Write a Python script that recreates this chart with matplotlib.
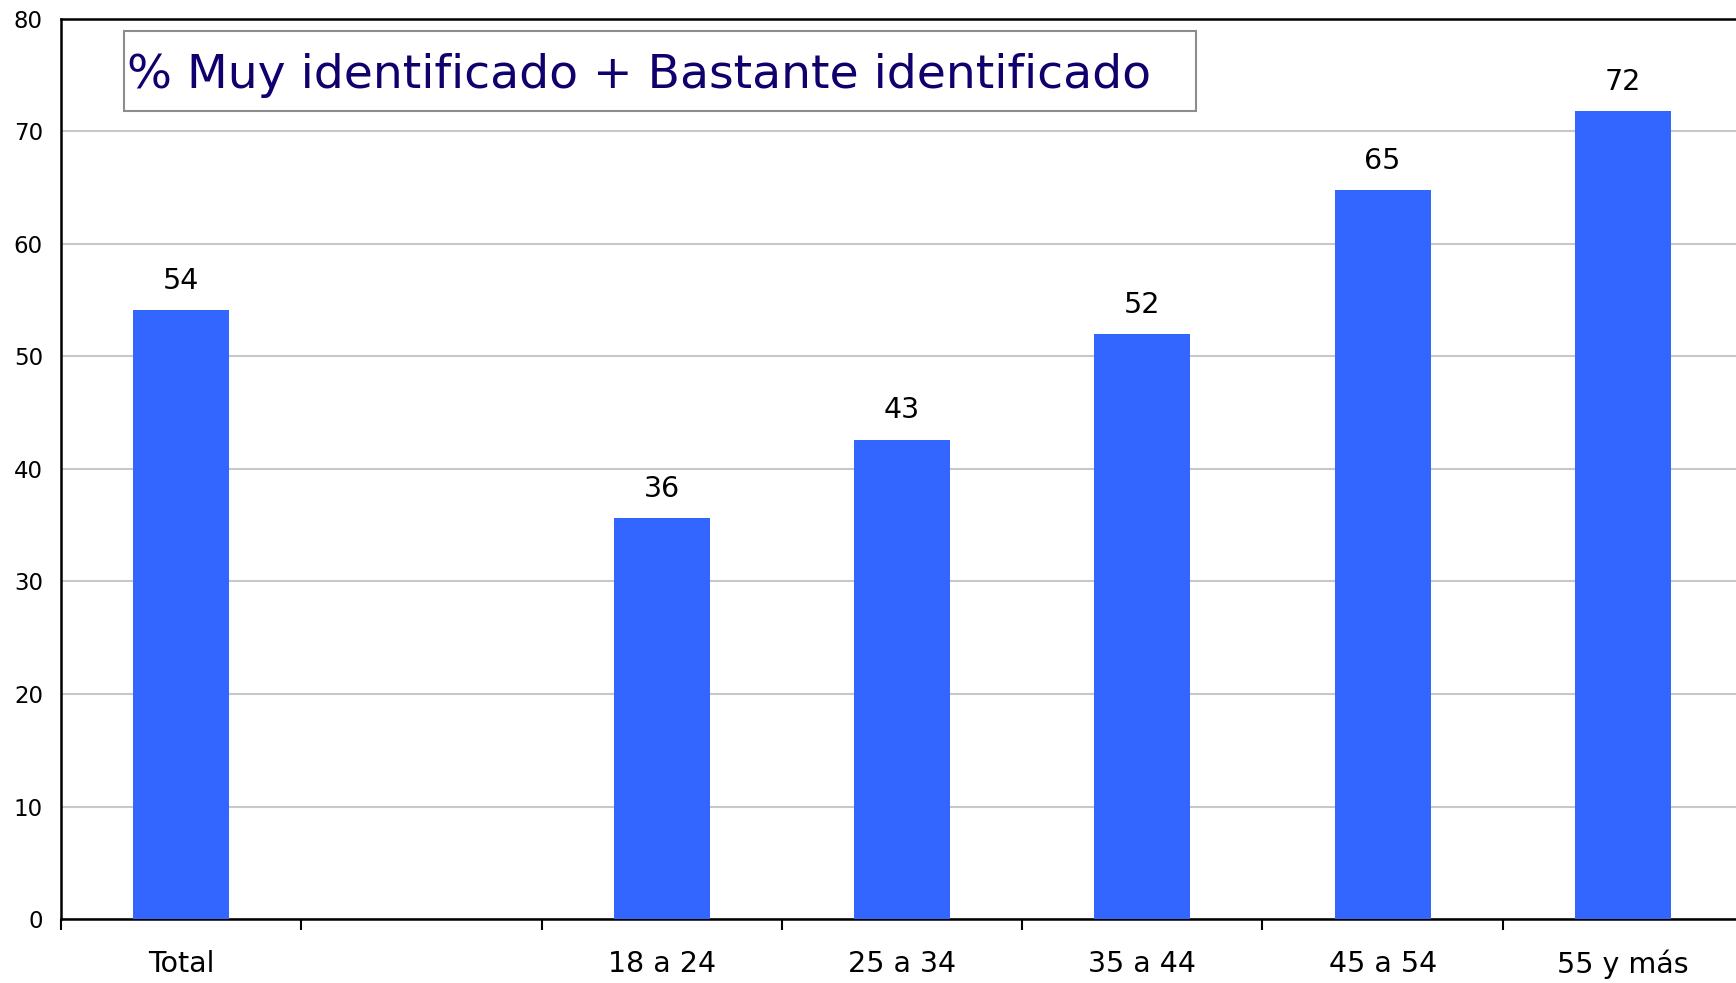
import matplotlib
matplotlib.use("Agg")
import matplotlib.pyplot as plt
from matplotlib.patches import Rectangle

categories = ["Total", "", "18 a 24", "25 a 34", "35 a 44", "45 a 54", "55 y más"]
values = [54.1, None, 35.6, 42.6, 52.0, 64.8, 71.8]
labels = ["54", "", "36", "43", "52", "65", "72"]
title = "% Muy identificado + Bastante identificado"

plt.rcParams['font.family'] = ['DejaVu Sans']

fig = plt.figure(figsize=(17.36, 9.83), dpi=100)
ax = fig.add_axes([0.0351, 0.0651, 0.969, 0.9156])

xs = [i for i, v in enumerate(values) if v is not None]
hs = [v for v in values if v is not None]
bars = ax.bar(xs, hs, width=0.4, color='#3366FF', zorder=3)

for x, h in zip(xs, hs):
    ax.annotate(labels[x], (x, h), xytext=(0, 11), textcoords='offset points',
                ha='center', va='bottom', fontsize=20.5)

ax.set_xlim(-0.5, 6.5)
ax.set_ylim(0, 80)
ax.set_yticks(range(0, 81, 10))
ax.tick_params(axis='y', length=0, pad=13, labelsize=16.5)
ax.yaxis.grid(True, color='#c8c8c8', linewidth=1.5, zorder=0)

# boundaries get the ticks, centres get the labels
ax.set_xticks([i - 0.5 for i in range(8)])
ax.set_xticklabels([])
ax.set_xticks(range(7), minor=True)
ax.set_xticklabels(categories, minor=True)
ax.tick_params(axis='x', which='major', length=8, width=1.5, direction='out')
ax.tick_params(axis='x', which='minor', length=0, pad=22, labelsize=20.5)

for s in ax.spines.values():
    s.set_linewidth(1.8)

ax.add_patch(Rectangle((0.0375, 0.898), 0.637, 0.089, transform=ax.transAxes,
                       fill=False, edgecolor='#8c8c8c', linewidth=1.5, zorder=5))
ax.text(0.039, 0.937, title, transform=ax.transAxes, ha='left', va='center',
        fontsize=34, color='#10006e', zorder=6)

fig.savefig("out.png", dpi=100)
